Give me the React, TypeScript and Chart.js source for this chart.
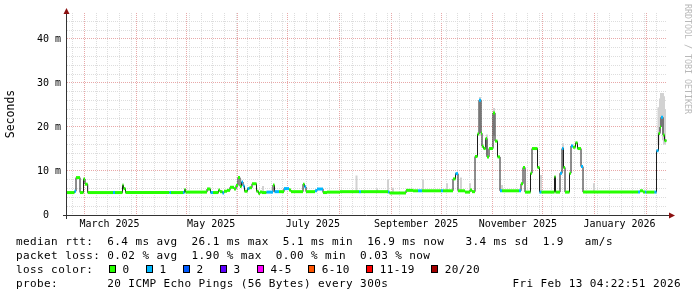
import { useEffect, useRef } from 'react';
import { Chart, registerables } from 'chart.js';

Chart.register(...registerables);

const MONO = "'DejaVu Sans Mono', monospace";

// Time axis: days since 2025-02-18 12:00 UTC (left edge of the plot)
const START_MS = Date.UTC(2025, 1, 18, 12, 0, 0);
const DAY_MS = 86400000;
const X_MAX = 360;
const Y_MAX = 45.9;

// Median RTT (ms), stepped: value holds from segStart[i] until the next start
const segStart = [
  0, 4.5, 5.4, 7.8, 9.9, 10.8, 12.4, 27.6, 28.8, 33.3,
  33.9, 35.1, 61.5, 62.4, 69.6, 70.5, 71.1, 84.0, 86.1, 87.6,
  90.9, 91.8, 93.3, 94.2, 96.0, 97.8, 100.2, 101.4, 102.6, 103.8,
  104.7, 105.6, 106.5, 108.3, 109.5, 111.0, 113.7, 114.9, 115.8, 117.0,
  119.7, 123.6, 124.5, 127.2, 130.2, 133.2, 134.4, 141.6, 142.5, 143.4,
  148.8, 150.0, 153.6, 156.0, 163.8, 175.2, 176.4, 192.6, 193.5, 203.4,
  207.6, 210.6, 213.0, 224.4, 225.6, 231.6, 233.1, 234.6, 238.8, 241.8,
  243.0, 244.8, 246.3, 247.2, 248.4, 249.0, 249.9, 251.2, 252.0, 253.2,
  255.6, 256.8, 258.3, 259.8, 261.0, 271.2, 272.4, 273.6, 274.8, 278.1,
  279.0, 282.3, 283.5, 284.7, 292.5, 293.1, 295.8, 297.0, 297.9, 298.8,
  301.5, 302.4, 303.6, 305.1, 306.3, 308.4, 309.6, 342.6, 343.8, 345.6,
  346.8, 347.7, 352.5, 353.7, 354.9, 355.8, 356.4, 357.6, 358.5,
];
const segEnd = 359.7;
const segValue = [
  5.1, 5.4, 8.5, 5.1, 8.2, 7.0, 5.1, 5.1, 5.1, 6.8,
  6.0, 5.1, 5.1, 5.1, 5.1, 5.8, 5.2, 5.9, 5.1, 5.1,
  5.7, 5.3, 5.0, 5.4, 5.6, 6.3, 5.9, 6.7, 8.5, 6.5,
  7.5, 6.6, 5.4, 6.0, 6.2, 7.1, 5.4, 4.9, 5.2, 5.1,
  5.2, 6.8, 5.3, 5.3, 6.0, 5.7, 5.3, 7.0, 6.4, 5.3,
  5.5, 5.9, 5.1, 5.2, 5.3, 5.3, 5.3, 5.2, 5.0, 5.6,
  5.5, 5.5, 5.5, 5.5, 5.5, 8.2, 9.4, 5.5, 5.2, 5.7,
  5.3, 13.3, 18.4, 26.1, 18.6, 15.6, 15.1, 17.4, 13.2, 15.1,
  23.2, 16.8, 13.2, 5.5, 5.5, 5.5, 7.1, 10.8, 5.2, 9.5,
  15.1, 10.8, 5.2, 5.2, 8.7, 5.2, 9.5, 15.1, 10.8, 5.2,
  9.5, 15.7, 15.4, 16.4, 15.1, 11.0, 5.2, 5.2, 5.5, 5.2,
  5.2, 5.2, 5.2, 14.6, 18.5, 20.0, 22.2, 18.2, 16.9,
];
// lost pings per segment (0 or 1 of 20)
const segLoss = [
  0, 1, 0, 0, 0, 0, 0, 1, 0, 0,
  0, 0, 1, 0, 1, 0, 0, 0, 1, 0,
  0, 0, 1, 0, 0, 0, 0, 0, 0, 0,
  1, 1, 0, 1, 0, 0, 0, 0, 0, 0,
  1, 0, 1, 0, 1, 0, 0, 0, 1, 0,
  1, 1, 0, 0, 0, 1, 0, 1, 0, 0,
  0, 1, 0, 1, 0, 0, 1, 0, 0, 0,
  0, 0, 0, 1, 0, 0, 0, 0, 0, 0,
  0, 0, 0, 1, 0, 1, 0, 0, 0, 0,
  0, 0, 1, 0, 0, 0, 1, 1, 0, 0,
  0, 1, 0, 0, 0, 1, 0, 1, 0, 0,
  1, 0, 1, 1, 0, 0, 1, 0, 0,
];

// Smoke (spread of individual pings), shown where it rises above the median
const smokeDay = [84.9, 117.6, 173.7, 186.0, 192.6, 195.6, 213.6, 228.0, 236.4, 241.8, 247.8, 252.0, 256.2, 261.0, 284.4, 297.6, 316.2, 354.9, 355.8, 356.4, 357.6, 358.2, 358.8];
const smokeLow = [5.5, 5.1, 5.3, 5.3, 5.2, 5.0, 5.5, 5.5, 5.5, 5.5, 18.0, 13.5, 18.0, 5.5, 5.2, 10.5, 5.2, 16.0, 19.0, 20.0, 17.0, 16.0, 16.0];
const smokeHigh = [6.3, 6.6, 9.0, 6.1, 8.1, 6.2, 8.0, 7.2, 8.5, 7.2, 26.8, 18.3, 24.3, 6.8, 9.1, 16.3, 7.2, 24.5, 26.5, 27.7, 27.7, 27.0, 24.0];

// Axis ticks
const yTickValues = [0, 2, 4, 6, 8, 10, 12, 14, 16, 18, 20, 22, 24, 26, 28, 30, 32, 34, 36, 38, 40, 42, 44];
const yLabelValues = [0, 10, 20, 30, 40];
const yLabelTexts = ['0  ', '10 m', '20 m', '30 m', '40 m'];
const monthStarts = ['2025-03-01', '2025-04-01', '2025-05-01', '2025-06-01', '2025-07-01', '2025-08-01', '2025-09-01', '2025-10-01', '2025-11-01', '2025-12-01', '2026-01-01', '2026-02-01'];
const monthLabelDates = ['2025-03-16', '2025-05-16', '2025-07-16', '2025-09-16', '2025-11-16', '2026-01-16'];
const monthLabels = ['March 2025', 'May 2025', 'July 2025', 'September 2025', 'November 2025', 'January 2026'];
const firstWeekDay = 3.5;

// Legend texts
const statRows = [
  'median rtt:  6.4 ms avg  26.1 ms max  5.1 ms min  16.9 ms now   3.4 ms sd  1.9   am/s',
  'packet loss: 0.02 % avg  1.90 % max  0.00 % min  0.03 % now',
];
const lossTitle = 'loss color:';
const lossLabels = ['0', '1', '2', '3', '4-5', '6-10', '11-19', '20/20'];
const lossColors = ['#26ff00', '#00b8ff', '#0059ff', '#5e00ff', '#ff00ff', '#ff5500', '#ff0000', '#a10000'];
const probeText = 'probe:       20 ICMP Echo Pings (56 Bytes) every 300s';
const dateText = 'Fri Feb 13 04:22:51 2026';
const watermarkText = 'RRDTOOL / TOBI OETIKER';
const yTitle = 'Seconds';

const MINOR_GRID = '#dddddd';
const MAJOR_GRID = '#e8a8a8';
const CLEAR = 'rgba(0,0,0,0)';

function dayOf(iso: string) {
  const [y, m, d] = iso.split('-').map(Number);
  return (Date.UTC(y, m - 1, d) - START_MS) / DAY_MS;
}

type XTick = { value: number; kind: 'week' | 'month' | 'label'; label: string };

function buildXTicks(): XTick[] {
  const list: XTick[] = [];
  const monthDays = monthStarts.map(dayOf);
  for (let d = firstWeekDay; d < X_MAX; d += 7) {
    if (!monthDays.some((m) => Math.abs(m - d) < 0.01)) list.push({ value: d, kind: 'week', label: '' });
  }
  monthDays.forEach((d) => list.push({ value: d, kind: 'month', label: '' }));
  monthLabelDates.forEach((iso, i) => list.push({ value: dayOf(iso), kind: 'label', label: monthLabels[i] }));
  list.sort((a, b) => a.value - b.value);
  return list;
}

const xTicks = buildXTicks();

function setLegendFont(ctx: CanvasRenderingContext2D) {
  const c = ctx as any;
  if ('letterSpacing' in c) {
    ctx.font = `11px ${MONO}`;
    c.letterSpacing = '0.4px';
  } else {
    ctx.font = `11.66px ${MONO}`;
  }
}

const decorPlugin = {
  id: 'rrdDecor',
  afterDraw(chart: any) {
    const ctx: CanvasRenderingContext2D = chart.ctx;
    const area = chart.chartArea;
    ctx.save();
    // axes
    ctx.strokeStyle = '#333333';
    ctx.lineWidth = 1;
    ctx.beginPath();
    ctx.moveTo(area.left - 0.5, area.top);
    ctx.lineTo(area.left - 0.5, area.bottom + 4);
    ctx.moveTo(area.left - 4, area.bottom + 0.5);
    ctx.lineTo(area.right + 3, area.bottom + 0.5);
    ctx.stroke();
    // arrows
    ctx.fillStyle = '#8b1010';
    ctx.beginPath();
    ctx.moveTo(area.left - 0.5, area.top - 5);
    ctx.lineTo(area.left - 3.5, area.top + 1);
    ctx.lineTo(area.left + 2.5, area.top + 1);
    ctx.closePath();
    ctx.fill();
    ctx.beginPath();
    ctx.moveTo(area.right + 8, area.bottom + 0.5);
    ctx.lineTo(area.right + 2, area.bottom - 2.5);
    ctx.lineTo(area.right + 2, area.bottom + 3.5);
    ctx.closePath();
    ctx.fill();

    // legend
    setLegendFont(ctx);
    ctx.fillStyle = '#000000';
    ctx.textBaseline = 'alphabetic';
    ctx.textAlign = 'left';
    const charW = 7.02;
    const left = 16;
    ctx.fillText(statRows[0], left, 245);
    ctx.fillText(statRows[1], left, 259);
    ctx.fillText(lossTitle, left, 273);
    let bx = 109;
    lossLabels.forEach((lab, i) => {
      const x = Math.round(bx);
      ctx.fillStyle = lossColors[i];
      ctx.fillRect(x, 265, 7, 8);
      ctx.strokeStyle = '#000000';
      ctx.strokeRect(x + 0.5, 265.5, 6, 7);
      ctx.fillStyle = '#000000';
      const tx = bx + 13.5;
      ctx.fillText(lab, tx, 273);
      bx = tx + lab.length * charW + 16.5;
    });
    ctx.fillText(probeText, left, 287);
    ctx.textAlign = 'right';
    ctx.fillText(dateText, 681, 287);

    // watermark
    const c = ctx as any;
    if ('letterSpacing' in c) c.letterSpacing = '0px';
    ctx.font = `8.3px ${MONO}`;
    ctx.fillStyle = '#b8b8b8';
    ctx.textAlign = 'left';
    ctx.textBaseline = 'middle';
    ctx.translate(687.5, 4);
    ctx.rotate(Math.PI / 2);
    ctx.fillText(watermarkText, 0, 0);
    ctx.restore();
  },
};

export default function App() {
  const ref = useRef<HTMLCanvasElement>(null);

  useEffect(() => {
    const canvas = ref.current;
    if (!canvas) return;

    const medianPoints = segStart.map((s, i) => ({ x: s, y: segValue[i] }));
    medianPoints.push({ x: segEnd, y: segValue[segValue.length - 1] });

    // loss-coloured band: horizontal pieces (even segments) joined by invisible verticals (odd segments)
    const bandPoints: { x: number; y: number }[] = [];
    segStart.forEach((s, i) => {
      const e = i + 1 < segStart.length ? segStart[i + 1] : segEnd;
      bandPoints.push({ x: s, y: segValue[i] }, { x: e, y: segValue[i] });
    });

    const smokePoints: { x: number; y: number | null }[] = [];
    smokeDay.forEach((d, i) => {
      smokePoints.push({ x: d, y: smokeLow[i] }, { x: d, y: smokeHigh[i] }, { x: d, y: null });
    });

    const chart = new Chart(canvas, {
      type: 'line',
      data: {
        datasets: [
          {
            label: 'loss band',
            data: bandPoints,
            borderColor: lossColors[0],
            borderWidth: 3,
            borderCapStyle: 'butt',
            pointRadius: 0,
            fill: false,
            order: 0,
            segment: {
              borderColor: (c: any) =>
                c.p0DataIndex % 2 === 1 ? CLEAR : lossColors[segLoss[Math.floor(c.p0DataIndex / 2)] || 0],
            },
          },
          {
            label: 'median',
            data: medianPoints,
            borderColor: '#1c1c1c',
            borderWidth: 1,
            stepped: true,
            pointRadius: 0,
            fill: false,
            order: 1,
          },
          {
            label: 'smoke',
            data: smokePoints,
            borderColor: '#d2d2d2',
            borderWidth: 2,
            borderCapStyle: 'butt',
            spanGaps: false,
            pointRadius: 0,
            fill: false,
            order: 2,
          },
        ] as any,
      },
      options: {
        responsive: false,
        animation: false,
        events: [],
        devicePixelRatio: 1,
        layout: { padding: { left: 0, right: 30, top: 13, bottom: 0 } },
        plugins: {
          legend: { display: false },
          tooltip: { enabled: false },
          title: { display: false },
        },
        scales: {
          x: {
            type: 'linear',
            min: 0,
            max: X_MAX,
            offset: false,
            afterBuildTicks: (scale: any) => {
              scale.ticks = xTicks.map((t) => ({ value: t.value }));
            },
            afterFit: (scale: any) => {
              scale.height = 82;
            },
            grid: {
              offset: false,
              drawTicks: false,
              lineWidth: 1,
              color: (c: any) => {
                const t = xTicks[c.index];
                if (!t) return CLEAR;
                if (t.kind === 'month') return MAJOR_GRID;
                if (t.kind === 'week') return MINOR_GRID;
                return CLEAR;
              },
            },
            border: { display: false, dash: [1, 1] },
            ticks: {
              autoSkip: false,
              maxRotation: 0,
              minRotation: 0,
              padding: 3,
              color: '#000000',
              font: { family: MONO, size: 10 },
              callback: (_v: any, i: number) => (xTicks[i] ? xTicks[i].label : ''),
            },
          },
          y: {
            type: 'linear',
            min: 0,
            max: Y_MAX,
            afterBuildTicks: (scale: any) => {
              scale.ticks = yTickValues.map((v) => ({ value: v }));
            },
            afterFit: (scale: any) => {
              scale.width = 67;
            },
            grid: {
              drawTicks: false,
              lineWidth: 1,
              color: (c: any) => (c.tick && c.tick.value % 10 === 0 ? MAJOR_GRID : MINOR_GRID),
            },
            border: { display: false, dash: [1, 1] },
            ticks: {
              autoSkip: false,
              padding: 6,
              color: '#000000',
              font: { family: MONO, size: 10 },
              callback: (v: any) => {
                const k = yLabelValues.indexOf(Number(v));
                return k >= 0 ? yLabelTexts[k] : '';
              },
            },
            title: {
              display: true,
              text: yTitle,
              color: '#000000',
              font: { family: MONO, size: 11.5 },
              padding: { top: 4.5, bottom: 0 },
            },
          },
        },
      } as any,
      plugins: [decorPlugin],
    });

    return () => chart.destroy();
  }, []);

  return (
    <div style={{ position: 'absolute', left: 0, top: 0, width: 697, height: 297, background: '#ffffff' }}>
      <canvas ref={ref} width={697} height={297} style={{ display: 'block', width: 697, height: 297 }} />
    </div>
  );
}
